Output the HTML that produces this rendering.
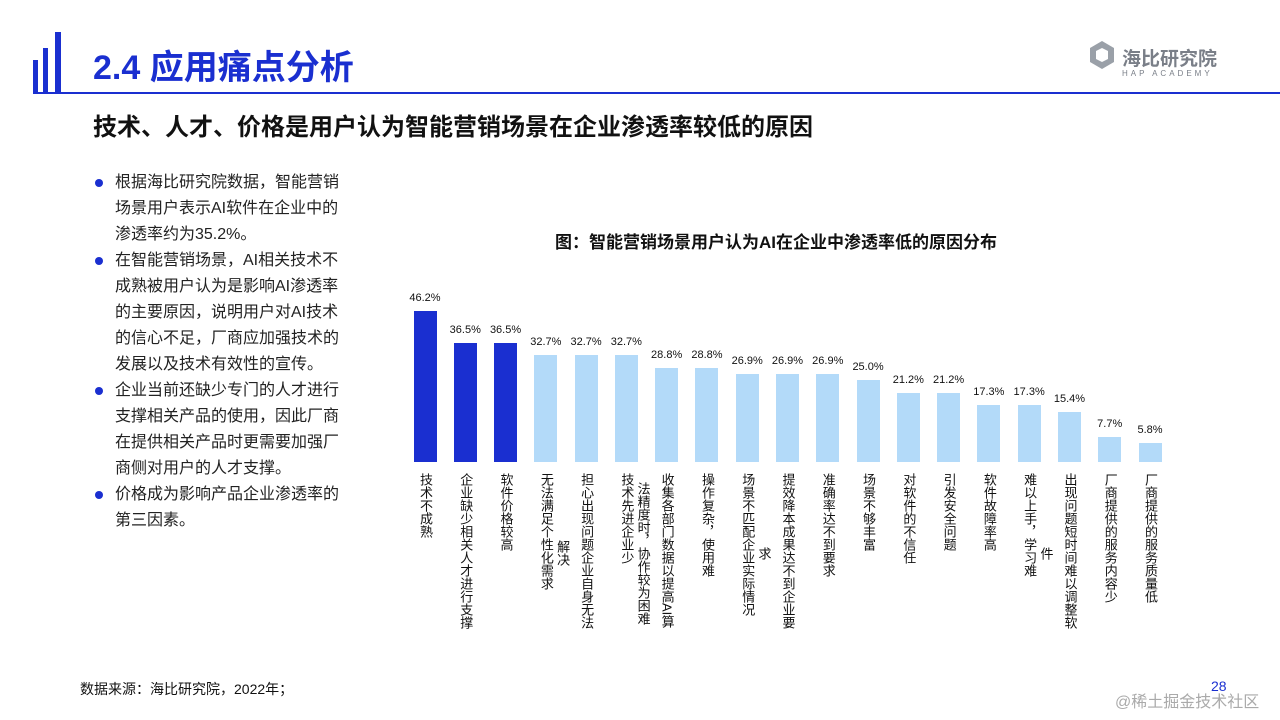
<!DOCTYPE html>
<html><head><meta charset="utf-8">
<style>
body{margin:0;width:1280px;height:720px;background:#fff;position:relative;overflow:hidden;font-family:"Liberation Sans","Noto Sans CJK SC",sans-serif;}
.abs{position:absolute;}
.bul{position:absolute;left:99px;font-size:16px;line-height:26px;color:#222;width:244px;}
.bul p{margin:0;position:relative;padding-left:16px;}
.bul p:before{content:"";position:absolute;left:-4px;top:9px;width:8px;height:8px;border-radius:50%;background:#1a2fd0;}
.lbl{position:absolute;writing-mode:vertical-rl;font-size:13px;line-height:24px;height:160px;width:24px;color:#111;white-space:nowrap;}
.val{position:absolute;font-size:11px;color:#111;width:50px;text-align:center;}
</style></head><body>
<svg class="abs" style="left:0;top:0" width="1280" height="110">
<rect x="33" y="60" width="5" height="32" fill="#1a2fd0"/>
<rect x="43" y="48" width="5" height="44" fill="#1a2fd0"/>
<rect x="55" y="32" width="6" height="60" fill="#1a2fd0"/>
<rect x="33" y="92" width="1247" height="2" fill="#1a2fd0"/>
<path d="M1090 48 l12 -7 l12 7 v14 l-12 7 l-12 -7z" fill="#9aa0a8"/>
<path d="M1096 51 l6 -3 l6 3 v8 l-6 3 l-6 -3z" fill="#fff"/>
</svg>
<div class="abs" style="left:93px;top:40px;font-size:34px;font-weight:bold;color:#1a2fd0;">2.4 应用痛点分析</div>
<div class="abs" style="left:1122px;top:44px;font-size:19px;font-weight:bold;color:#7a7f88;">海比研究院</div>
<div class="abs" style="left:1122px;top:69px;font-size:8px;letter-spacing:3px;color:#7a7f88;">HAP ACADEMY</div>
<div class="abs" style="left:93px;top:107px;font-size:24px;font-weight:bold;color:#111;">技术、人才、价格是用户认为智能营销场景在企业渗透率较低的原因</div>
<div class="bul" style="top:170px">
<p>根据海比研究院数据，智能营销场景用户表示AI软件在企业中的渗透率约为35.2%。</p>
<p>在智能营销场景，AI相关技术不成熟被用户认为是影响AI渗透率的主要原因，说明用户对AI技术的信心不足，厂商应加强技术的发展以及技术有效性的宣传。</p>
<p>企业当前还缺少专门的人才进行支撑相关产品的使用，因此厂商在提供相关产品时更需要加强厂商侧对用户的人才支撑。</p>
<p>价格成为影响产品企业渗透率的第三因素。</p>
</div>
<div class="abs" style="left:555px;top:228px;font-size:17px;font-weight:bold;color:#111;">图：智能营销场景用户认为AI在企业中渗透率低的原因分布</div>
<div id="chart"></div>
<div class="abs" style="left:80px;top:679px;font-size:14px;color:#111;">数据来源：海比研究院，2022年；</div>
<div class="abs" style="left:1211px;top:678px;font-size:14px;color:#1a2fd0;">28</div>
<div class="abs" style="left:1115px;top:688px;font-size:16px;color:#aaa;">@稀土掘金技术社区</div>
<script>
const categories=["技术不成熟","企业缺少相关人才进行支撑","软件价格较高","无法满足个性化需求","担心出现问题企业自身无法\n解决","技术先进企业少","收集各部门数据以提高AI算\n法精度时，协作较为困难","操作复杂，使用难","场景不匹配企业实际情况","提效降本成果达不到企业要\n求","准确率达不到要求","场景不够丰富","对软件的不信任","引发安全问题","软件故障率高","难以上手，学习难","出现问题短时间难以调整软\n件","厂商提供的服务内容少","厂商提供的服务质量低"];
const values=[46.2,36.5,36.5,32.7,32.7,32.7,28.8,28.8,26.9,26.9,26.9,25.0,21.2,21.2,17.3,17.3,15.4,7.7,5.8];
const highlightCount=3;
const root=document.getElementById('chart');
const n=values.length;
const x0=425,x1=1150,base=462,scale=3.27,bw=23;
function xc(i){return x0+(x1-x0)*i/(n-1);}
function yv(v){return base-v*scale;}
for(let i=0;i<n;i++){
 const h=values[i]*scale;
 const b=document.createElement('div');
 
 
 b.style.cssText=`position:absolute;left:${xc(i)-bw/2}px;top:${yv(values[i])}px;width:${bw}px;height:${h}px;background:${i<highlightCount?'#1a2fd0':'#b3daf9'}`;
 root.appendChild(b);
 const t=document.createElement('div');
 
 
 t.className='val';
 t.style.left=(xc(i)-25)+'px';t.style.top=(yv(values[i])-19)+'px';
 t.textContent=values[i].toFixed(1)+'%';
 root.appendChild(t);
 const cols=categories[i].split('\n');
 cols.forEach((c,k)=>{
  const l=document.createElement('div');
  
  
  l.className='lbl';
  l.style.left=(xc(i)-12-k*24)+'px';l.style.top='473px';
  l.style.textAlign=k===0?'start':'center';
  l.textContent=c;
  root.appendChild(l);
 });
}
</script>
</body></html>
